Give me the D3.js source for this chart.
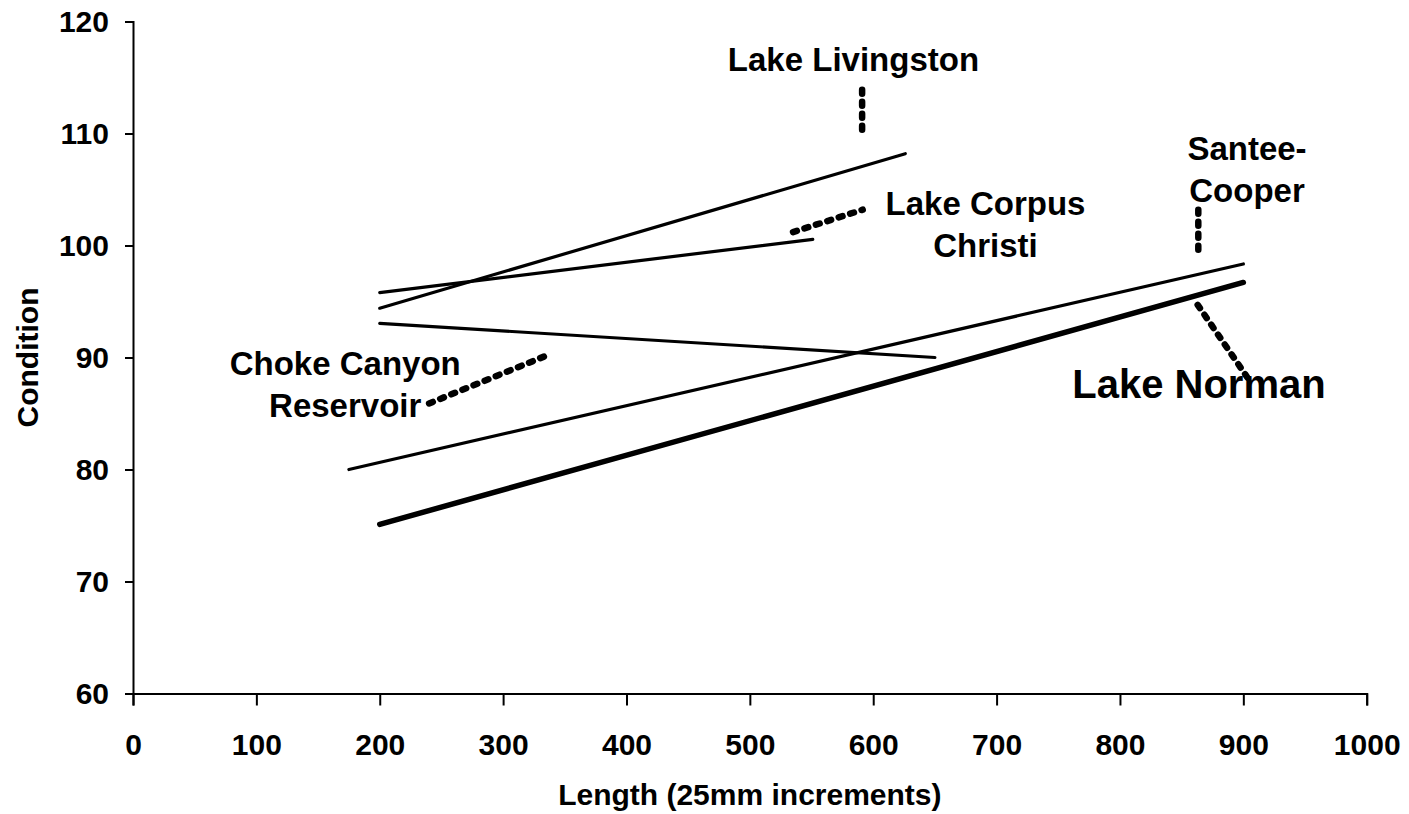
<!DOCTYPE html>
<html>
<head>
<meta charset="utf-8">
<script src="https://cdn.jsdelivr.net/npm/d3@7"></script>
<style>
    body { margin: 0; background: #fff; }
    text { font-family: Arial, "Liberation Sans", sans-serif; font-weight: bold; fill: #000; }
</style>
</head>
<body>
<div id="graph"></div>
<script>
"use strict";

// regression lines, one per lake (length, condition)
const lakes = ["Lake Livingston", "Lake Corpus Christi", "Choke Canyon Reservoir", "Santee-Cooper", "Lake Norman"];
const startLength = [200, 200, 200, 175, 200];
const startCond   = [94.4, 95.8, 93.05, 80.0, 75.1];
const endLength   = [626, 551, 650, 900, 900];
const endCond     = [108.2, 100.55, 90.0, 98.35, 96.7];

// dashed pointers from the labels to the lines
const leadX1 = [591, 535, 240, 863.5, 863];
const leadY1 = [113.9, 101.2, 85.9, 103.2, 94.7];
const leadX2 = [591, 591.5, 338, 863.5, 904];
const leadY2 = [110.0, 103.2, 90.3, 99.5, 88.1];

// label text, split in lines, and where the first baseline sits
const labelLines = [["Lake Livingston"], ["Lake Corpus", "Christi"], ["Choke Canyon", "Reservoir"], ["Santee-", "Cooper"], ["Lake Norman"]];
const labelX = [584, 691, 172, 903, 864];
const labelY = [115.6, 102.7, 88.4, 107.6, 86.4];

const xTicks = [0, 100, 200, 300, 400, 500, 600, 700, 800, 900, 1000];
const yTicks = [60, 70, 80, 90, 100, 110, 120];

var width = 1409,
    height = 814;

let svg = d3.select("#graph")
    .append("svg")
    .attr("width", width)
    .attr("height", height);

let x = d3.scaleLinear().domain([0, 1000]).range([133, 1366.7]);
let y = d3.scaleLinear().domain([60, 120]).range([693.5, 21.5]);

// axes
let xAxis = svg.append("g")
    .attr("transform", "translate(0," + y(60) + ")")
    .call(d3.axisBottom(x).tickValues(xTicks).tickSize(12).tickPadding(26).tickFormat(d3.format("d")));
let yAxis = svg.append("g")
    .attr("transform", "translate(" + x(0) + ",0)")
    .call(d3.axisLeft(y).tickValues(yTicks).tickSize(8).tickPadding(16).tickFormat(d3.format("d")));

[xAxis, yAxis].forEach(function (a) {
    a.select(".domain").attr("stroke", "#000").attr("stroke-width", 2);
    a.selectAll(".tick line").attr("stroke", "#000").attr("stroke-width", 2);
    a.selectAll(".tick text").style("font-size", "30px").attr("fill", "#000");
});
xAxis.selectAll(".tick text").attr("dy", 0).attr("y", 61);

svg.append("text")
    .attr("x", (x(0) + x(1000)) / 2)
    .attr("y", 805)
    .attr("text-anchor", "middle")
    .style("font-size", "30px")
    .text("Length (25mm increments)");

svg.append("text")
    .attr("transform", "translate(38," + (y(60) + y(120)) / 2 + ") rotate(-90)")
    .attr("text-anchor", "middle")
    .style("font-size", "30px")
    .text("Condition");

// lines
svg.append("g").selectAll("line")
    .data(lakes)
    .enter()
    .append("line")
    .attr("x1", (d, i) => x(startLength[i]))
    .attr("y1", (d, i) => y(startCond[i]))
    .attr("x2", (d, i) => x(endLength[i]))
    .attr("y2", (d, i) => y(endCond[i]))
    .attr("stroke", "#000")
    .attr("stroke-width", d => d == "Lake Norman" ? 5.5 : 3.2)
    .attr("stroke-linecap", "round");

// leaders
svg.append("g").selectAll("line")
    .data(lakes)
    .enter()
    .append("line")
    .attr("x1", (d, i) => x(leadX1[i]))
    .attr("y1", (d, i) => y(leadY1[i]))
    .attr("x2", (d, i) => x(leadX2[i]))
    .attr("y2", (d, i) => y(leadY2[i]))
    .attr("stroke", "#000")
    .attr("stroke-width", 6.5)
    .attr("stroke-dasharray", "4,8")
    .attr("stroke-linecap", "round");

// labels
let labels = svg.append("g").selectAll("text")
    .data(lakes)
    .enter()
    .append("text")
    .attr("x", (d, i) => x(labelX[i]))
    .attr("y", (d, i) => y(labelY[i]))
    .attr("text-anchor", "middle")
    .style("font-size", d => d == "Lake Norman" ? "40px" : "33px");

labels.each(function (d, i) {
    let t = d3.select(this);
    labelLines[i].forEach(function (s, j) {
        t.append("tspan")
            .attr("x", x(labelX[i]))
            .attr("dy", j == 0 ? 0 : 42)
            .text(s);
    });
});
</script>
</body>
</html>
